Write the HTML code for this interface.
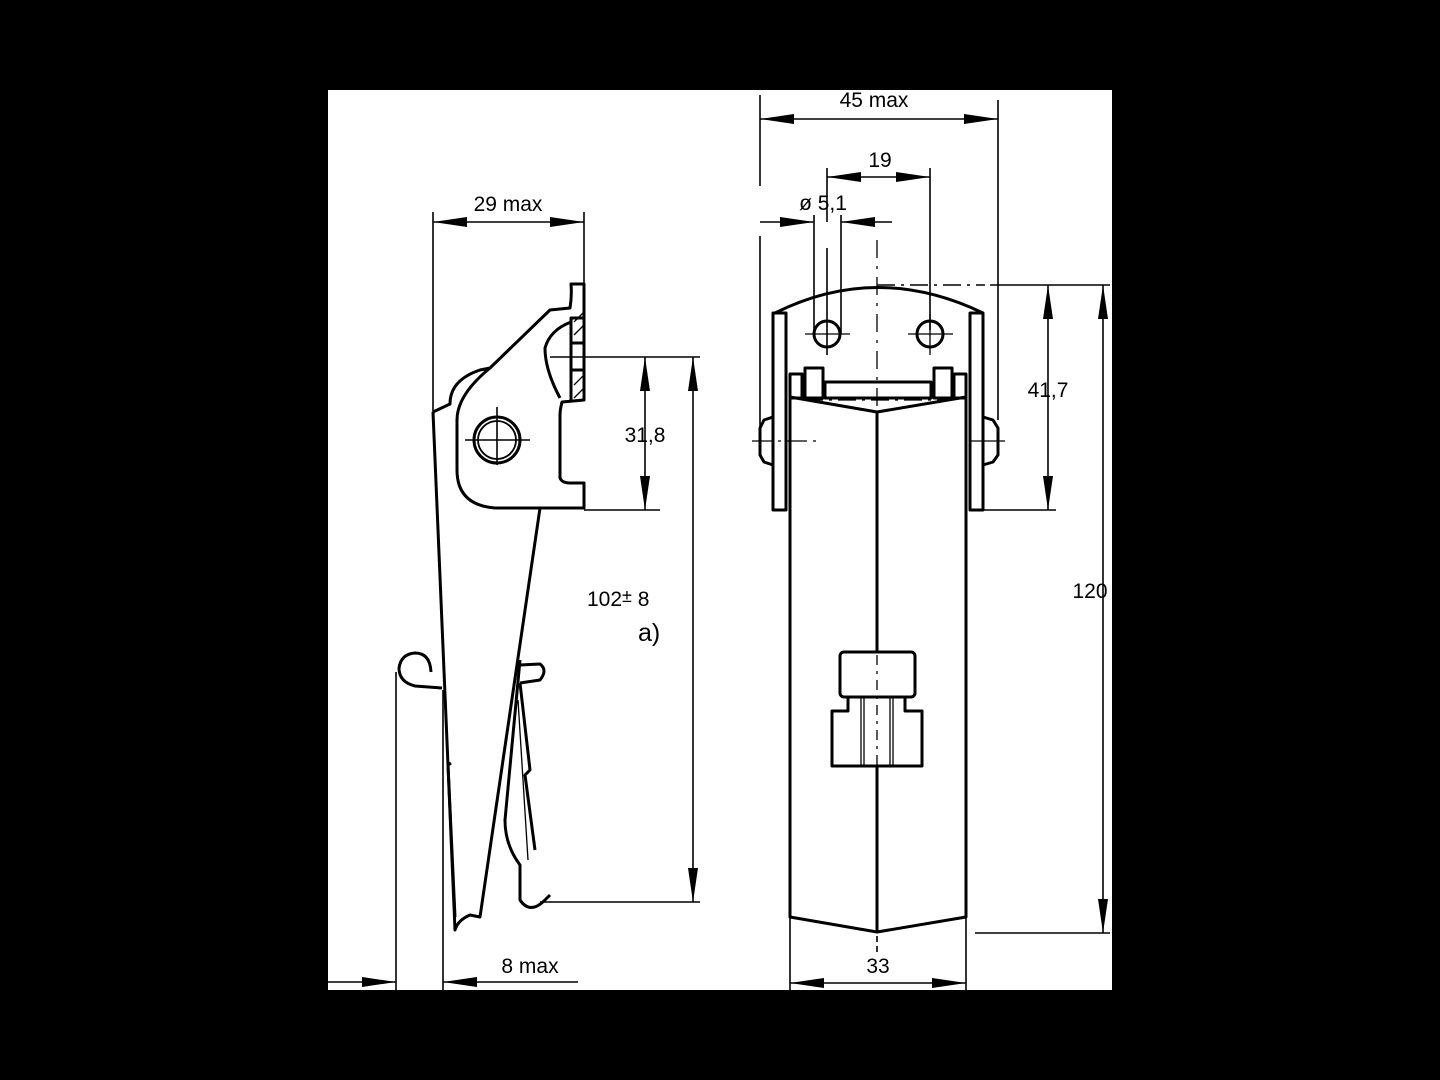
<!DOCTYPE html>
<html><head><meta charset="utf-8"><style>
html,body{margin:0;padding:0;background:#000;}
svg{display:block;}
text{font-family:"Liberation Sans",sans-serif;fill:#000;}
</style></head><body>
<svg width="1440" height="1080" viewBox="0 0 1440 1080" xmlns="http://www.w3.org/2000/svg">
<defs>
<marker id="a" viewBox="0 0 34 12" refX="34" refY="6" markerWidth="34" markerHeight="12" markerUnits="userSpaceOnUse" orient="auto-start-reverse"><path d="M0,1 L34,6 L0,11 Z" fill="#000"/></marker>
</defs>
<rect x="328" y="90" width="784" height="900" fill="#fff"/>
<g stroke="#000" fill="none" stroke-width="1.6">
<line x1="760" y1="95" x2="760" y2="186"/><line x1="760" y1="236" x2="760" y2="430"/>
<line x1="998" y1="100" x2="998" y2="420"/>
<line x1="760" y1="119" x2="998" y2="119" marker-start="url(#a)" marker-end="url(#a)"/>
<line x1="827" y1="168" x2="827" y2="222"/><line x1="930" y1="168" x2="930" y2="330"/>
<line x1="827" y1="177" x2="930" y2="177" marker-start="url(#a)" marker-end="url(#a)"/>
<line x1="814" y1="215" x2="814" y2="334"/><line x1="841" y1="215" x2="841" y2="334"/>
<line x1="760" y1="222" x2="814" y2="222" marker-end="url(#a)"/>
<line x1="892" y1="222" x2="841" y2="222" marker-end="url(#a)"/>
<line x1="827" y1="248" x2="827" y2="355"/>
<line x1="990" y1="285" x2="1110" y2="285"/>
<line x1="877" y1="285" x2="985" y2="285" stroke-dasharray="18 6 3 6"/>
<line x1="983" y1="510" x2="1056" y2="510"/>
<line x1="975" y1="933" x2="1110" y2="933"/>
<line x1="1048" y1="285" x2="1048" y2="510" marker-start="url(#a)" marker-end="url(#a)"/>
<line x1="1103" y1="285" x2="1103" y2="933" marker-start="url(#a)" marker-end="url(#a)"/>
<line x1="790" y1="917" x2="790" y2="990"/><line x1="966" y1="917" x2="966" y2="990"/>
<line x1="790" y1="983" x2="966" y2="983" marker-start="url(#a)" marker-end="url(#a)"/>
<line x1="877" y1="936" x2="877" y2="952" stroke-dasharray="6 4"/>
</g>
<g stroke="#000" fill="none" stroke-width="3" stroke-linejoin="round">
<path d="M775,313 Q877,262 983,313"/>
<rect x="773" y="313" width="13" height="197"/>
<rect x="970" y="313" width="13" height="197"/>
<path d="M773,417 L764,420 L760,428 L760,455 L764,462 L773,465"/>
<path d="M983,417 L993,420 L998,428 L998,455 L993,462 L983,465"/>
<circle cx="827" cy="334" r="13"/><circle cx="930" cy="334" r="13"/>
<rect x="790" y="374" width="12" height="24"/><rect x="805" y="368" width="18" height="30"/>
<rect x="934" y="368" width="18" height="30"/><rect x="954" y="374" width="12" height="24"/>
<rect x="825" y="382" width="106" height="16"/>
<path d="M790,397 L790,917 L877,932 L966,917 L966,397"/>
<path d="M790,397 L877,412 L966,397"/>
<line x1="877" y1="412" x2="877" y2="652"/><line x1="877" y1="766" x2="877" y2="932"/>
<rect x="840" y="652" width="75" height="45" rx="4"/>
<path d="M832,766 L832,711 L848,711 L848,697 L905,697 L905,711 L922,711 L922,766 Z"/>
</g>
<g stroke="#000" fill="none" stroke-width="1.3">
<line x1="861" y1="697" x2="861" y2="766"/><line x1="864" y1="697" x2="864" y2="766"/>
<line x1="890" y1="697" x2="890" y2="766"/><line x1="893" y1="697" x2="893" y2="766"/>
<line x1="877" y1="240" x2="877" y2="410" stroke-dasharray="18 8 3 8"/>
<line x1="877" y1="655" x2="877" y2="765" stroke-dasharray="10 6 3 6"/>
<line x1="805" y1="400" x2="952" y2="400" stroke-dasharray="18 6 3 6"/>
<line x1="752" y1="441" x2="820" y2="441" stroke-dasharray="20 6 3 6"/>
<line x1="970" y1="441" x2="1005" y2="441"/>
<line x1="805" y1="334" x2="850" y2="334"/><line x1="908" y1="334" x2="953" y2="334"/>
<line x1="930" y1="314" x2="930" y2="355"/>
</g>
<g stroke="#000" fill="none" stroke-width="1.6">
<line x1="433" y1="212" x2="433" y2="412"/><line x1="584" y1="212" x2="584" y2="284"/>
<line x1="433" y1="222" x2="584" y2="222" marker-start="url(#a)" marker-end="url(#a)"/>
<line x1="550" y1="357" x2="700" y2="357"/><line x1="584" y1="510" x2="660" y2="510"/>
<line x1="540" y1="902" x2="700" y2="902"/>
<line x1="645" y1="357" x2="645" y2="510" marker-start="url(#a)" marker-end="url(#a)"/>
<line x1="693" y1="357" x2="693" y2="902" marker-start="url(#a)" marker-end="url(#a)"/>
<line x1="396" y1="672" x2="396" y2="990"/><line x1="443" y1="690" x2="443" y2="990"/>
<line x1="328" y1="982" x2="396" y2="982" marker-end="url(#a)"/>
<line x1="578" y1="982" x2="443" y2="982" marker-end="url(#a)"/>
<line x1="465" y1="440" x2="530" y2="440"/><line x1="497" y1="407" x2="497" y2="465"/>
</g>
<g stroke="#000" fill="none" stroke-width="3" stroke-linejoin="round">
<path d="M433,412 L455,930 Q458,920 470,915 L480,917 L540,508"/>
<path d="M433,412 L450,404 Q450,380 480,370 L490,368 L550,310 L570,308 Q572,296 571,284 L584,284 L584,400 L562,402 Q560,410 560,415 L560,478 Q562,483 570,483 L584,483 L584,508 L495,508 Q457,505 457,470 L457,420 Q457,395 490,368"/>
<path d="M584,318 L571,318 L571,400 M571,343 L584,343 M571,370 L584,370"/>
<path d="M571,322 Q550,330 545,348 Q545,370 560,398"/>
<circle cx="497" cy="440" r="23"/><circle cx="497" cy="440" r="19" stroke-width="1.8"/>
<path d="M442,688 L415,686 Q399,682 399,668 Q401,654 415,653 Q430,653 431,672"/>
<path d="M455,917 L448,765 L451,763"/>
<path d="M520,665 L540,664 Q548,670 540,680 L520,683"/>
<path d="M520,660 L505,820 Q505,845 520,865 L520,900 Q530,915 545,900 L550,895"/>
<path d="M520,683 L530,770 L525,775 L535,850"/>
</g>
<g stroke="#000" fill="none" stroke-width="1.3">
<line x1="574" y1="322" x2="584" y2="312"/><line x1="574" y1="335" x2="584" y2="325"/>
<line x1="574" y1="385" x2="584" y2="375"/><line x1="574" y1="398" x2="584" y2="388"/>
<line x1="518" y1="700" x2="528" y2="860"/>
</g>
<g font-size="21">
<text x="508" y="211" text-anchor="middle">29 max</text>
<text x="645" y="442" text-anchor="middle">31,8</text>
<text x="587" y="606">102<tspan font-size="18" dy="-4">±</tspan><tspan dy="4"> 8</tspan></text>
<text x="638" y="641" font-size="25">a)</text>
<text x="530" y="973" text-anchor="middle">8 max</text>
<text x="874" y="107" text-anchor="middle">45 max</text>
<text x="880" y="167" text-anchor="middle">19</text>
<text x="823" y="210" text-anchor="middle">ø 5,1</text>
<text x="1048" y="397" text-anchor="middle">41,7</text>
<text x="1090" y="598" text-anchor="middle">120</text>
<text x="878" y="973" text-anchor="middle">33</text>
</g>
</svg>
</body></html>
